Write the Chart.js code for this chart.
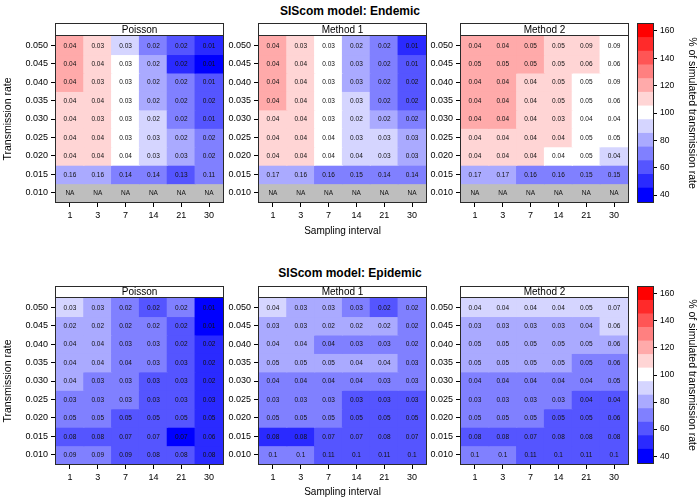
<!DOCTYPE html>
<html><head><meta charset="utf-8">
<script src="https://cdn.jsdelivr.net/npm/chart.js@4.4.1/dist/chart.umd.min.js"></script>
<style>
html,body{margin:0;padding:0;background:#fff;width:700px;height:504px;overflow:hidden;}
#wrap{position:relative;width:700px;height:504px;}
canvas{position:absolute;}
.title{position:absolute;left:0;width:700px;text-align:center;font:bold 12px "Liberation Sans",Arial,Helvetica,sans-serif;line-height:14px;color:#000;}
</style></head><body><div id="wrap">
<div class="title" style="top:4px">SIScom model: Endemic</div>
<div class="title" style="top:266px">SIScom model: Epidemic</div>
</div>
<script>
// ---- data (rows listed top to bottom: 0.050 ... 0.010) ----
const rates = ['0.050','0.045','0.040','0.035','0.030','0.025','0.020','0.015','0.010'];
const intervals = ['1','3','7','14','21','30'];
const colorBins = [40,50,60,70,80,90,100,110,120,130,140,150,160];
const colorTicks = [40,60,80,100,120,140,160];
const NA = [null,null,null,null,null,null];

// % of simulated transmission rate (binned)
const endemicPoissonPct = [
  [120,110,90,70,60,50],
  [120,110,100,80,50,40],
  [120,110,100,80,70,60],
  [110,110,100,80,70,60],
  [110,110,100,90,70,60],
  [110,110,100,90,80,70],
  [110,110,100,90,80,70],
  [80,80,70,70,60,70],
  NA];
const endemicMethod1Pct = [
  [120,110,100,80,70,50],
  [120,110,100,80,70,60],
  [120,110,100,80,70,60],
  [120,110,100,90,70,60],
  [110,110,100,90,80,70],
  [110,110,100,90,90,80],
  [110,110,100,90,90,80],
  [80,80,70,70,70,70],
  NA];
const endemicMethod2Pct = [
  [120,120,120,110,110,100],
  [120,120,120,110,110,100],
  [120,120,110,110,100,100],
  [120,120,110,110,100,100],
  [120,120,110,110,100,100],
  [110,110,110,110,100,100],
  [110,110,110,100,100,90],
  [80,80,70,70,70,70],
  NA];
const epidemicPoissonPct = [
  [90,80,70,60,70,40],
  [80,80,70,70,60,40],
  [80,80,70,70,60,50],
  [80,80,70,70,60,50],
  [80,70,70,60,60,50],
  [70,70,70,60,60,50],
  [70,70,60,60,60,50],
  [60,60,60,60,40,50],
  [70,70,60,60,60,50]];
const epidemicMethod1Pct = [
  [90,80,80,70,60,70],
  [80,80,80,80,80,70],
  [80,80,70,70,70,70],
  [80,80,80,80,80,70],
  [70,70,70,70,70,70],
  [70,70,70,60,60,60],
  [70,70,70,60,60,60],
  [50,50,60,60,60,60],
  [70,70,60,60,60,60]];
const epidemicMethod2Pct = [
  [90,90,90,90,90,90],
  [80,80,80,80,80,90],
  [80,80,80,80,80,80],
  [80,80,80,80,70,70],
  [70,70,70,70,70,70],
  [70,70,70,70,60,60],
  [70,70,70,60,60,60],
  [60,60,60,60,60,60],
  [70,70,60,60,60,60]];

// cell text (e.g. error values) per row
const endemicPoissonText = [
  ['0.04','0.03','0.03','0.02','0.02','0.01'],
  ['0.04','0.04','0.03','0.02','0.02','0.01'],
  ['0.04','0.03','0.03','0.02','0.02','0.01'],
  ['0.04','0.04','0.03','0.02','0.02','0.02'],
  ['0.04','0.03','0.03','0.02','0.02','0.01'],
  ['0.04','0.04','0.03','0.03','0.02','0.02'],
  ['0.04','0.04','0.04','0.03','0.03','0.02'],
  ['0.16','0.16','0.14','0.14','0.13','0.11'],
  ['NA','NA','NA','NA','NA','NA']];
const endemicMethod1Text = [
  ['0.04','0.03','0.03','0.02','0.02','0.01'],
  ['0.04','0.04','0.03','0.03','0.02','0.01'],
  ['0.04','0.04','0.03','0.03','0.02','0.02'],
  ['0.04','0.04','0.03','0.03','0.02','0.02'],
  ['0.04','0.04','0.03','0.02','0.02','0.02'],
  ['0.04','0.04','0.04','0.03','0.03','0.03'],
  ['0.04','0.04','0.04','0.04','0.03','0.03'],
  ['0.17','0.16','0.16','0.15','0.14','0.14'],
  ['NA','NA','NA','NA','NA','NA']];
const endemicMethod2Text = [
  ['0.04','0.04','0.05','0.05','0.09','0.09'],
  ['0.05','0.05','0.05','0.05','0.06','0.06'],
  ['0.04','0.04','0.04','0.05','0.05','0.09'],
  ['0.04','0.04','0.04','0.05','0.05','0.06'],
  ['0.04','0.04','0.04','0.03','0.04','0.04'],
  ['0.04','0.04','0.04','0.04','0.05','0.05'],
  ['0.04','0.04','0.04','0.04','0.05','0.04'],
  ['0.17','0.17','0.16','0.16','0.15','0.15'],
  ['NA','NA','NA','NA','NA','NA']];
const epidemicPoissonText = [
  ['0.03','0.03','0.02','0.02','0.02','0.01'],
  ['0.02','0.02','0.02','0.02','0.02','0.01'],
  ['0.04','0.04','0.03','0.03','0.02','0.02'],
  ['0.04','0.04','0.04','0.03','0.03','0.02'],
  ['0.04','0.03','0.03','0.03','0.03','0.02'],
  ['0.03','0.03','0.03','0.03','0.03','0.03'],
  ['0.05','0.05','0.05','0.05','0.05','0.05'],
  ['0.08','0.08','0.07','0.07','0.07','0.06'],
  ['0.09','0.09','0.09','0.08','0.08','0.08']];
const epidemicMethod1Text = [
  ['0.04','0.03','0.03','0.03','0.02','0.02'],
  ['0.03','0.03','0.02','0.02','0.02','0.02'],
  ['0.04','0.04','0.04','0.03','0.03','0.02'],
  ['0.05','0.05','0.05','0.04','0.04','0.03'],
  ['0.04','0.04','0.04','0.04','0.03','0.03'],
  ['0.03','0.03','0.03','0.03','0.03','0.03'],
  ['0.05','0.05','0.05','0.05','0.05','0.05'],
  ['0.08','0.08','0.07','0.07','0.08','0.07'],
  ['0.1','0.1','0.11','0.1','0.11','0.1']];
const epidemicMethod2Text = [
  ['0.04','0.04','0.04','0.04','0.05','0.07'],
  ['0.03','0.03','0.03','0.03','0.04','0.06'],
  ['0.05','0.05','0.05','0.05','0.05','0.06'],
  ['0.05','0.05','0.05','0.05','0.05','0.06'],
  ['0.04','0.04','0.04','0.04','0.04','0.05'],
  ['0.03','0.03','0.03','0.03','0.04','0.04'],
  ['0.05','0.05','0.05','0.05','0.05','0.06'],
  ['0.08','0.08','0.07','0.08','0.08','0.08'],
  ['0.1','0.1','0.11','0.1','0.11','0.1']];

// ---- rendering ----
const FONT = '"Liberation Sans", Arial, Helvetica, sans-serif';
Chart.defaults.font.family = FONT;
Chart.defaults.color = '#000';
const wrap = document.getElementById('wrap');

function binColor(v){
  if (v === null) return '#bebebe';
  const k = (v - 100) / 10;
  if (k <= 0) { const c = Math.round(255 * (1 + k / 6)); return `rgb(${c},${c},255)`; }
  const c = Math.round(255 * (1 - k / 6)); return `rgb(255,${c},${c})`;
}

function makeCanvas(left, top, w, h){
  const c = document.createElement('canvas');
  c.width = w; c.height = h;
  c.style.left = left + 'px'; c.style.top = top + 'px';
  c.style.width = w + 'px'; c.style.height = h + 'px';
  wrap.appendChild(c);
  return c;
}

const panelDeco = {
  id: 'panelDeco',
  afterDatasetsDraw(chart) {
    const o = chart.options.plugins.panelDeco;
    const ctx = chart.ctx, a = chart.chartArea;
    ctx.save();
    if (o.cells) {
      ctx.font = '6.5px ' + FONT;
      ctx.fillStyle = '#111';
      ctx.textAlign = 'center';
      ctx.textBaseline = 'middle';
      chart.data.datasets.forEach((ds, di) => {
        chart.getDatasetMeta(di).data.forEach((el, i) => {
          const p = el.getCenterPoint();
          ctx.fillText(ds.cellText[i], p.x, p.y + 0.5);
        });
      });
    }
    const L = Math.round(a.left) - 0.5, R = Math.round(a.right) + 0.5;
    const T = Math.round(a.top) - 0.5, B = Math.round(a.bottom) + 0.5;
    ctx.strokeStyle = '#2a2a2a';
    ctx.lineWidth = 1;
    if (o.strip) {
      const sT = T - o.stripH;
      ctx.fillStyle = '#fff';
      ctx.fillRect(L, sT, R - L, o.stripH);
      ctx.strokeRect(L, sT, R - L, B - sT);
      ctx.beginPath(); ctx.moveTo(L, T); ctx.lineTo(R, T); ctx.stroke();
      ctx.fillStyle = '#000';
      ctx.font = '10px ' + FONT;
      ctx.textAlign = 'center';
      ctx.textBaseline = 'middle';
      ctx.fillText(o.strip, (a.left + a.right) / 2, T - o.stripH / 2 + 0.5);
    } else {
      ctx.strokeRect(L, T, R - L, B - T);
    }
    ctx.restore();
  }
};

function makePanel(pct, text, strip, plotLeft, row, yTitle, xTitle){
  const W = 56 + 167 + 4;
  const canvas = makeCanvas(plotLeft - 56, row.top, W, row.h);
  const n = rates.length;
  const datasets = rates.map((rate, ri) => {
    const yi = n - 1 - ri;
    return {
      label: rate,
      data: intervals.map(() => [yi - 0.5, yi + 0.5]),
      backgroundColor: pct[ri].map(binColor),
      cellText: text[ri],
      borderWidth: 0,
      inflateAmount: 0.6,
      barPercentage: 1,
      categoryPercentage: 1,
      grouped: false
    };
  });
  new Chart(canvas, {
    type: 'bar',
    data: { labels: intervals, datasets },
    options: {
      responsive: false, animation: false, devicePixelRatio: 1,
      layout: { padding: { top: row.padTop, right: 4, left: 0, bottom: 0 } },
      plugins: {
        legend: { display: false }, tooltip: { enabled: false },
        panelDeco: { cells: true, strip, stripH: row.stripH }
      },
      scales: {
        x: {
          type: 'category', offset: true,
          grid: { display: true, drawOnChartArea: false, drawTicks: true, tickLength: 5, tickColor: '#000', offset: false, lineWidth: 1 },
          border: { display: false },
          ticks: { color: '#000', font: { size: 9 }, padding: 3, maxRotation: 0, autoSkip: false },
          title: { display: xTitle, text: 'Sampling interval', color: '#000', font: { size: 10 }, padding: { top: 0, bottom: row.xTitlePad } },
          afterFit: s => { s.height = row.xh; }
        },
        y: {
          type: 'linear', min: -0.5, max: n - 0.5,
          afterBuildTicks: s => { s.ticks = rates.map((_, i) => ({ value: i })); },
          grid: { display: true, drawOnChartArea: false, drawTicks: true, tickLength: 5, tickColor: '#000' },
          border: { display: false },
          ticks: { color: '#000', font: { size: 9 }, padding: 3, callback: v => rates[n - 1 - v] },
          title: { display: yTitle, text: 'Transmission rate', color: '#000', font: { size: 10.5 }, padding: { top: 2, bottom: 0 } },
          afterFit: s => { s.width = 56; }
        }
      }
    },
    plugins: [panelDeco]
  });
}

function makeColorbar(row){
  const canvas = makeCanvas(630, row.top, 70, row.h);
  new Chart(canvas, {
    type: 'bar',
    data: {
      labels: [''],
      datasets: colorBins.map(b => ({
        label: String(b), data: [[b - 5, b + 5]], backgroundColor: binColor(b),
        borderWidth: 0, inflateAmount: 0.6, barPercentage: 1, categoryPercentage: 1, grouped: false
      }))
    },
    options: {
      responsive: false, animation: false, devicePixelRatio: 1,
      layout: { padding: { top: row.cbTop, bottom: row.cbBottom, left: 8, right: 0 } },
      plugins: { legend: { display: false }, tooltip: { enabled: false }, panelDeco: { cells: false, strip: null } },
      scales: {
        x: { display: false, offset: true },
        y: {
          position: 'right', min: 35, max: 165,
          afterBuildTicks: s => { s.ticks = colorTicks.map(v => ({ value: v })); },
          grid: { display: true, drawOnChartArea: false, drawTicks: true, tickLength: 4, tickColor: '#000' },
          border: { display: false },
          ticks: { color: '#000', font: { size: 8.5 }, padding: 3 },
          title: { display: true, text: '% of simulated transmission rate', color: '#000', font: { size: 10.5 }, padding: { top: 2, bottom: 0 } },
          afterFit: s => { s.width = 47; }
        }
      }
    },
    plugins: [panelDeco]
  });
}

const topRow = { top: 0, h: 245, padTop: 36, stripH: 12, xh: 43, xTitlePad: 8, cbTop: 24, cbBottom: 43 };
const botRow = { top: 250, h: 254, padTop: 48, stripH: 11, xh: 40, xTitlePad: 6, cbTop: 37, cbBottom: 41 };

makePanel(endemicPoissonPct, endemicPoissonText, 'Poisson', 56, topRow, true, false);
makePanel(endemicMethod1Pct, endemicMethod1Text, 'Method 1', 259, topRow, false, true);
makePanel(endemicMethod2Pct, endemicMethod2Text, 'Method 2', 461, topRow, false, false);
makeColorbar(topRow);
makePanel(epidemicPoissonPct, epidemicPoissonText, 'Poisson', 56, botRow, true, false);
makePanel(epidemicMethod1Pct, epidemicMethod1Text, 'Method 1', 259, botRow, false, true);
makePanel(epidemicMethod2Pct, epidemicMethod2Text, 'Method 2', 461, botRow, false, false);
makeColorbar(botRow);
</script>
</body></html>
